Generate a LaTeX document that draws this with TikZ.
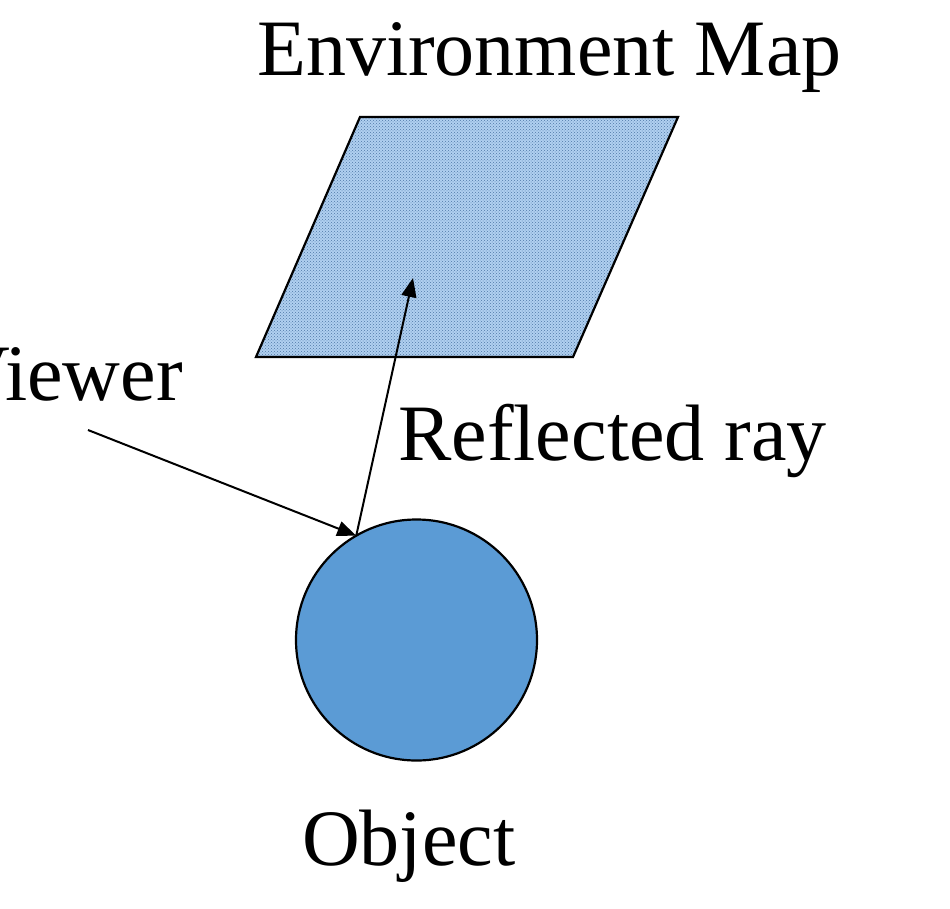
\documentclass[tikz,border=0pt]{standalone}
\usepackage{fontspec}
\setmainfont{Liberation Serif}
\usetikzlibrary{patterns,arrows.meta,calc}
\definecolor{mapfill}{HTML}{B0D0F0}
\definecolor{mapdot}{HTML}{4F78A8}
\definecolor{objfill}{HTML}{5B9BD5}
\tikzset{
  lbl/.style={font=\fontsize{80}{80}\selectfont, inner sep=0pt},
  ray/.style={draw=black, line width=2pt, -{Triangle[length=19pt,width=15pt]}},
  shapeline/.style={draw=black, line width=2.2pt}
}
\begin{document}
\begin{tikzpicture}[x=1pt,y=-1pt]
\useasboundingbox (0,0) rectangle (950,908);
\clip (0,0) rectangle (950,908);
\fill[white] (0,0) rectangle (950,908);
% environment map
\path[fill=mapfill] (360,117) -- (678,117) -- (573,357) -- (256,357) -- cycle;
\path[pattern=crosshatch dots, pattern color=mapdot] (360,117) -- (678,117) -- (573,357) -- (256,357) -- cycle;
\draw[shapeline, line join=miter] (360,117) coordinate (m1) -- (678,117) -- (573,357) -- (256,357) -- cycle;
\coordinate (maptip) at (413,278);
% object
\node[circle, shapeline, fill=objfill, minimum size=241pt, inner sep=0pt] (obj) at (416.5,640) {};
\coordinate (hit) at ($(obj.center)+(120:120.5pt)$);
% labels
\node[lbl, anchor=base west] (envlbl) at (257,75) {Environment Map};
\node[lbl, anchor=base east] (viewlbl) at (183,400) {Viewer};
\node[lbl, anchor=base west] (refllbl) at (398,460) {Reflected ray};
\node[lbl, anchor=base west] (objlbl) at (302,865) {Object};
% rays
\coordinate (vstart) at (88,430);
\draw[ray] (vstart) -- (hit);
\draw[ray] (hit) -- (maptip);
\end{tikzpicture}
\end{document}
